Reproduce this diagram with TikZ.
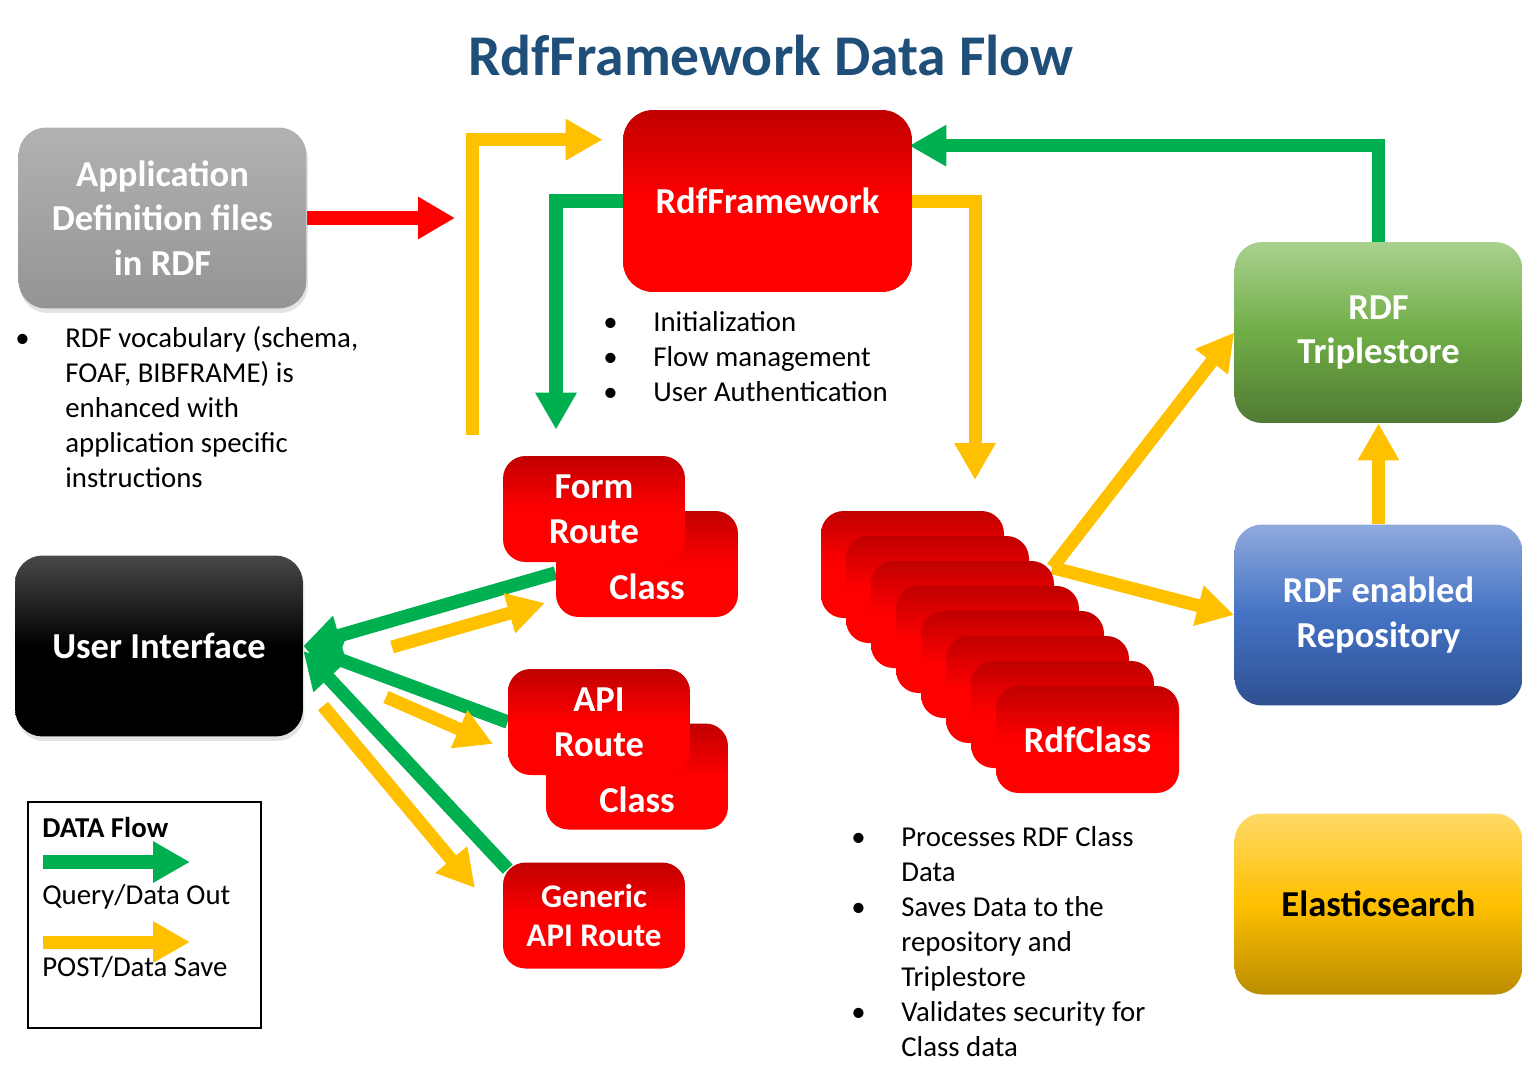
\documentclass[tikz,border=0pt]{standalone}
\usepackage{fontspec}
\setmainfont{Carlito}
\usetikzlibrary{arrows.meta,positioning,shadows,backgrounds,calc}

\definecolor{flowgreen}{RGB}{0,176,80}
\definecolor{flowyellow}{RGB}{255,192,0}
\definecolor{flowred}{RGB}{255,0,0}
\definecolor{titleblue}{RGB}{31,78,121}
\definecolor{rdfdark}{RGB}{192,0,0}
\definecolor{grtop}{RGB}{178,178,178}
\definecolor{grbot}{RGB}{148,148,148}
\definecolor{uitop}{RGB}{72,72,72}
\definecolor{tstop}{RGB}{169,209,142}
\definecolor{tsmid}{RGB}{112,173,71}
\definecolor{tsbot}{RGB}{80,122,50}
\definecolor{rptop}{RGB}{143,170,220}
\definecolor{rpmid}{RGB}{68,114,196}
\definecolor{rpbot}{RGB}{47,80,145}
\definecolor{eltop}{RGB}{255,217,102}
\definecolor{elmid}{RGB}{255,192,0}
\definecolor{elbot}{RGB}{186,140,0}

\newcommand{\titlefont}{\fontsize{32.8}{39}\selectfont\bfseries}
\newcommand{\boxfont}{\fontsize{20.8}{25.5}\selectfont\bfseries}
\newcommand{\smallboxfont}{\fontsize{18.8}{22.7}\selectfont\bfseries}
\newcommand{\bodyfont}{\fontsize{16.4}{19.9}\selectfont}

\tikzstyle{bigbox} = [rectangle, rounded corners=0.55cm, minimum width=5.76cm, minimum height=3.62cm, align=center, text=white, font=\boxfont]
\tikzstyle{redbox} = [rectangle, rounded corners=0.45cm, minimum width=3.64cm, minimum height=2.12cm, align=center, text=white, font=\boxfont, top color=rdfdark, bottom color=flowred, middle color=flowred]
\tikzstyle{softshadow} = [drop shadow={opacity=0.22, shadow xshift=0.03cm, shadow yshift=-0.09cm}]
\tikzstyle{listtext} = [inner sep=0pt, font=\bodyfont, anchor=north west]
\tikzstyle{garrow} = [line width=0.27cm, draw=flowgreen, -{Triangle[length=0.74cm, width=0.78cm]}]
\tikzstyle{yarrow} = [line width=0.26cm, draw=flowyellow, -{Triangle[length=0.74cm, width=0.78cm]}]
\tikzstyle{rarrow} = [line width=0.28cm, draw=flowred, -{Triangle[length=0.74cm, width=0.8cm]}]

\begin{document}
\begin{tikzpicture}[x=0.02cm, y=-0.02cm]
\useasboundingbox (0,0) rectangle (1523,1082);

\node[text=titleblue, font=\titlefont] (title) at (771,55) {RdfFramework Data Flow};

% left column
\node (appdef) [bigbox, top color=grtop, bottom color=grbot, softshadow] at (162.5,218) {Application\\Definition files\\in RDF};
\node (ui) [bigbox, top color=uitop, bottom color=black, middle color=black, softshadow] at (159,646) {User Interface};

% framework and routes
\node (rdf) [redbox, minimum width=5.78cm, minimum height=3.64cm, rounded corners=0.6cm] at (767.5,201) {RdfFramework};
\node (fclass) [redbox, label={[text=white, font=\boxfont, yshift=-0.46cm]center:Class}] at (647,564) {};
\node (form) [redbox] at (594,509) {Form\\Route};
\node (aclass) [redbox, label={[text=white, font=\boxfont, yshift=-0.47cm]center:Class}] at (637,776.5) {};
\node (api) [redbox] at (599,722) {API\\Route};
\node (generic) [redbox, font=\smallboxfont] at (594,915.5) {Generic\\API Route};

% stack of classes
\node (c1) [redbox, minimum width=3.66cm, minimum height=2.14cm] at (912.5,564.5) {};
\node (c2) [redbox, minimum width=3.66cm, minimum height=2.14cm] at (937.5,589.5) {};
\node (c3) [redbox, minimum width=3.66cm, minimum height=2.14cm] at (962.5,614.5) {};
\node (c4) [redbox, minimum width=3.66cm, minimum height=2.14cm] at (987.5,639.5) {};
\node (c5) [redbox, minimum width=3.66cm, minimum height=2.14cm] at (1012.5,664.5) {};
\node (c6) [redbox, minimum width=3.66cm, minimum height=2.14cm] at (1037.5,689.5) {};
\node (c7) [redbox, minimum width=3.66cm, minimum height=2.14cm] at (1062.5,714.5) {};
\node (c8) [redbox, minimum width=3.66cm, minimum height=2.14cm] at (1087.5,739.5) {RdfClass};

% stores
\node (triple) [bigbox, top color=tstop, bottom color=tsbot, middle color=tsmid] at (1378.5,332.5) {\raisebox{-0.08cm}{RDF}\\\raisebox{-0.08cm}{Triplestore}};
\node (repo) [bigbox, top color=rptop, bottom color=rpbot, middle color=rpmid] at (1378.5,615) {\raisebox{-0.06cm}{RDF enabled}\\\raisebox{-0.06cm}{Repository}};
\node (elastic) [bigbox, text=black, top color=eltop, bottom color=elbot, middle color=elmid] at (1378.5,904) {Elasticsearch};

% bullet texts
\node (deflist) [listtext] at (15,323) {\begin{tabular}{@{}p{1cm}@{}l@{}}
\textbullet & RDF vocabulary (schema,\\
 & FOAF, BIBFRAME) is\\
 & enhanced with\\
 & application specific\\
 & instructions
\end{tabular}};
\node (rdflist) [listtext] at (603,307) {\begin{tabular}{@{}p{1cm}@{}l@{}}
\textbullet & Initialization\\
\textbullet & Flow management\\
\textbullet & User Authentication
\end{tabular}};
\node (classlist) [listtext] at (851,822) {\begin{tabular}{@{}p{1cm}@{}l@{}}
\textbullet & Processes RDF Class\\
 & Data\\
\textbullet & Saves Data to the\\
 & repository and\\
 & Triplestore\\
\textbullet & Validates security for\\
 & Class data
\end{tabular}};

% legend
\node (legend) [draw, line width=0.04cm, minimum width=4.66cm, minimum height=4.52cm, anchor=north west] at (27,801) {};
\node (lghead) [anchor=west, inner sep=0pt, font=\bodyfont\bfseries] at (42,827) {DATA Flow};
\node (lgquery) [anchor=west, inner sep=0pt, font=\bodyfont] at (42,897) {Query/Data Out};
\node (lgpost) [anchor=west, inner sep=0pt, font=\bodyfont] at (42,967) {POST/Data Save};
\coordinate (lgga) at (43,862);
\coordinate (lggb) at (190,862);
\coordinate (lgya) at (43,942);
\coordinate (lgyb) at (190,942);

% free ends
\coordinate (redtip) at (455,218);
\coordinate (ytail) at (472,435);
\coordinate (ystack) at (975,480);
\coordinate (y1a) at (392,647);
\coordinate (y1b) at (545,603);
\coordinate (y2a) at (386,697);
\coordinate (y2b) at (493,744);
\coordinate (y3a) at (323,706);
\coordinate (y3b) at (475,888);

\begin{scope}[on background layer]
\draw [rarrow] (appdef.east) -- (redtip);
\draw [yarrow] (ytail) |- ([yshift=-0.6cm]rdf.north west) [shorten >=0.4cm];
\draw [garrow] (rdf.west) -| ([xshift=-0.76cm, yshift=0.52cm]form.north);
\draw [yarrow] (rdf.east) -| (ystack);
\draw [garrow, shorten >=-0.06cm] (triple.north) |- ([yshift=-0.72cm]rdf.north east);
\draw [garrow] ([yshift=-0.18cm]fclass.west) -- (ui.east);
\draw [garrow] (api.west) -- (ui.east);
\draw [garrow] ([shift={(0.1cm,-0.14cm)}]generic.north west) -- ([yshift=-0.1cm]ui.east);
\draw [yarrow] (y1a) -- (y1b);
\draw [yarrow] (y2a) -- (y2b);
\draw [yarrow] (y3a) -- (y3b);
\draw [yarrow] ([shift={(-0.04cm,-0.14cm)}]c3.north east) -- (triple.west);
\draw [yarrow] ([shift={(-0.04cm,-0.14cm)}]c3.north east) -- (repo.west);
\draw [yarrow] (repo.north) -- (triple.south);
\end{scope}

\draw [garrow] (lgga) -- (lggb);
\draw [yarrow] (lgya) -- (lgyb);
\end{tikzpicture}
\end{document}
